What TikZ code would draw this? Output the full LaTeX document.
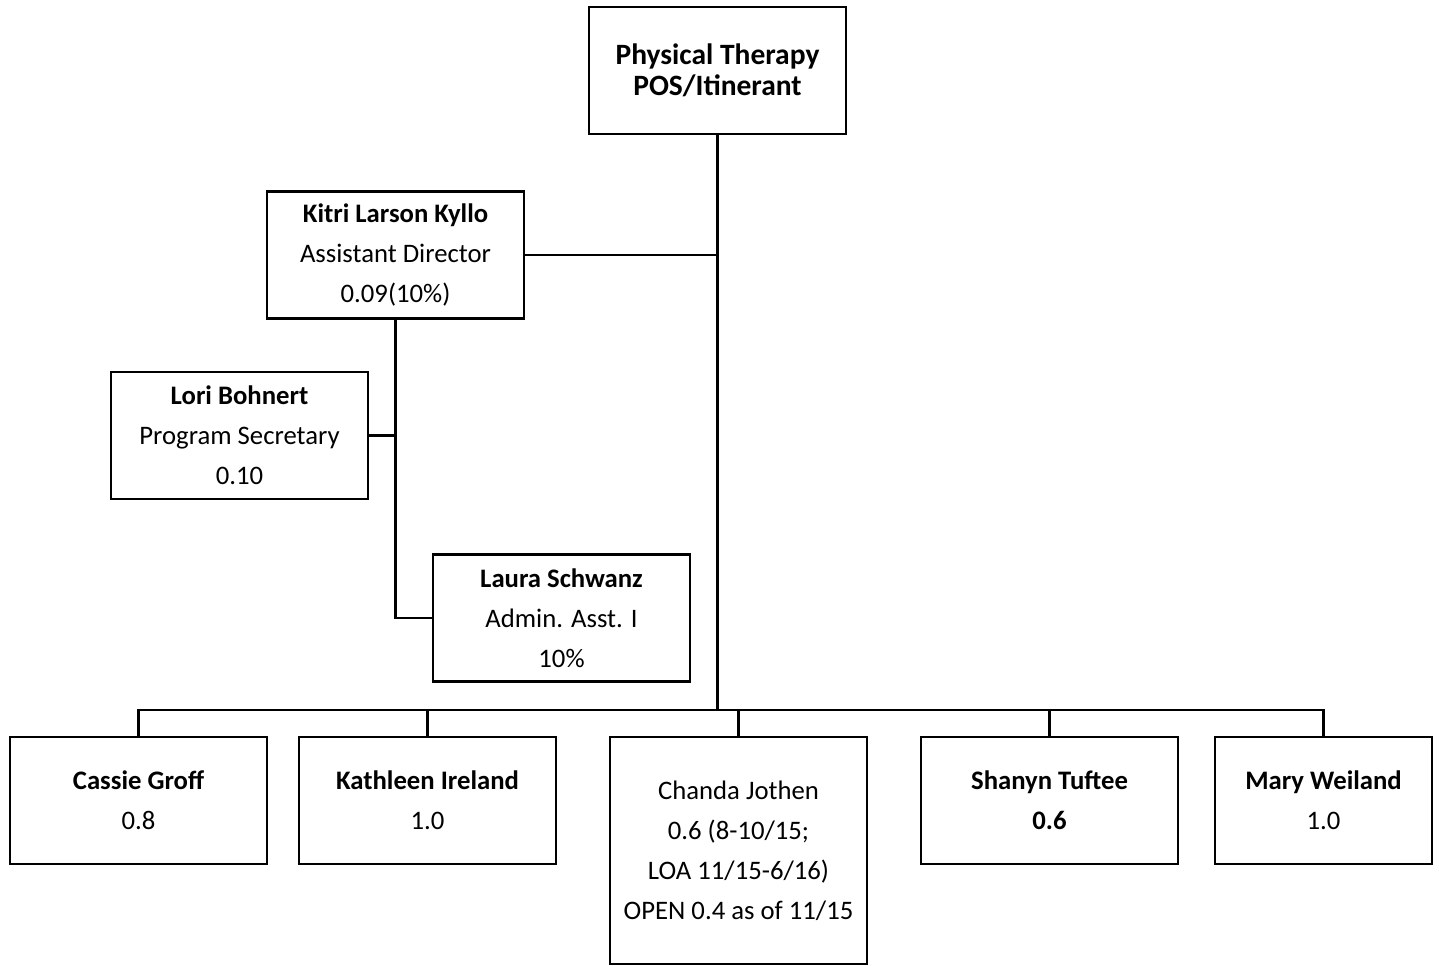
\documentclass[tikz,border=0pt]{standalone}
\usepackage{fontspec}
\setmainfont{Carlito}
\usetikzlibrary{calc}

\begin{document}
\begin{tikzpicture}[x = 0.02cm, y = -0.02cm,
  box/.style = {draw, line width = 1.3pt, align = center, inner sep = 0pt,
                minimum width = 5.14cm, minimum height = 2.54cm,
                font = \fontsize{15.2}{22.7}\selectfont},
  link/.style = {line width = 1.3pt}]
\useasboundingbox (0,0) rectangle (1439,966);

%Top box
\node[box, font = \fontsize{16.8}{18}\selectfont\bfseries] (pt) at (717.5,70.5)
  {Physical Therapy\\POS/Itinerant};

%Assistant director and office staff
\node[box] (kyllo) at (395.5,255) {\textbf{Kitri Larson Kyllo}\\Assistant Director\\0.09(10\%)};
\node[box] (bohnert) at (239.5,435.5) {\textbf{Lori Bohnert}\\Program Secretary\\0.10};
\node[box] (schwanz) at (561.5,618) {\textbf{Laura Schwanz}\\Admin. Asst. I\\10\%};

%Therapists
\node[box] (groff) at (138.5,800.5) {\textbf{Cassie Groff}\\0.8};
\node[box] (ireland) at (427.5,800.5) {\textbf{Kathleen Ireland}\\1.0};
\node[box, minimum height = 4.54cm] (jothen) at (738.5,850.5)
  {Chanda Jothen\\0.6 (8-10/15;\\LOA 11/15-6/16)\\OPEN 0.4 as of 11/15};
\node[box] (tuftee) at (1049.5,800.5) {\textbf{Shanyn Tuftee}\\\textbf{0.6}};
\node[box, minimum width = 4.34cm] (weiland) at (1323.5,800.5) {\textbf{Mary Weiland}\\1.0};

%Main line and bus
\coordinate (bus) at (717.5,710);
\draw[link] (pt.south) -- (bus);
\draw[link] (kyllo.east) -- (kyllo.east -| pt.south);

%Office staff lines
\draw[link] (kyllo.south) |- (schwanz.west);
\draw[link] (bohnert.east) -- (bohnert.east -| kyllo.south);

%Drops to therapists
\foreach \n in {groff, ireland, jothen, tuftee, weiland}
  \draw[link] (\n.north) |- (bus);

\end{tikzpicture}
\end{document}
